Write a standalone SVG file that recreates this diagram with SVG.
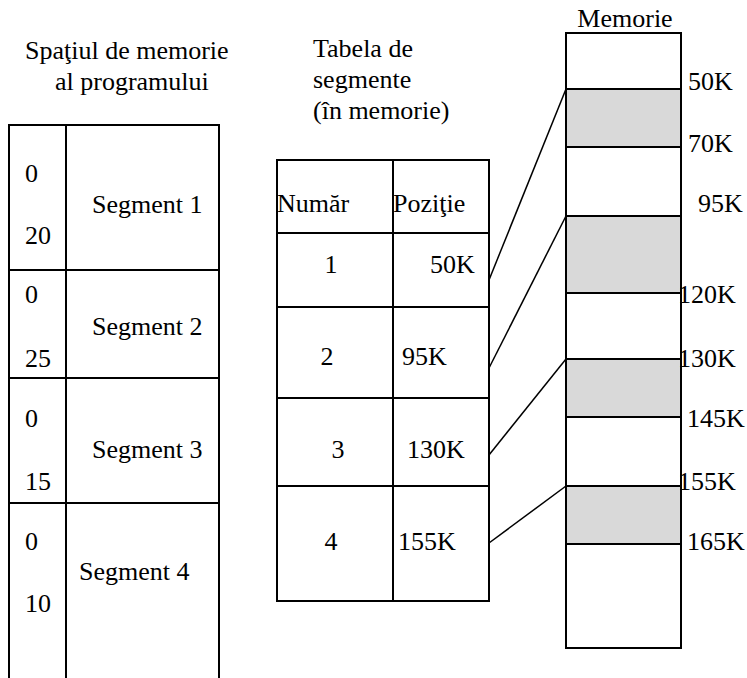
<svg xmlns="http://www.w3.org/2000/svg" width="747" height="678" viewBox="0 0 747 678">
  <style>
    .t { font-family: "Liberation Serif", "Times New Roman", serif; font-size: 26px; fill: #000; }
    .m { text-anchor: middle; }
    .e { text-anchor: end; }
    .box { fill: none; stroke: #000; stroke-width: 2; }
    .ln { stroke: #000; stroke-width: 2; fill: none; }
    .seg { fill: #d9d9d9; stroke: none; }
    .conn { stroke: #000; stroke-width: 1.5; fill: none; }
  </style>
  <rect width="747" height="678" fill="#fff"/>

  <!-- program address space -->
  <g id="program-space">
    <text class="t" x="25" y="59">Spaţiul de memorie</text>
    <text class="t" x="55" y="90">al programului</text>
    <path class="ln" d="M9 678 V125 H219 V678 M66 125 V678 M9 270 H219 M9 378 H219 M9 503 H219"/>
  </g>
  <g id="seg1">
    <text class="t" x="25" y="182">0</text>
    <text class="t" x="25" y="244">20</text>
    <text class="t" x="92" y="213">Segment 1</text>
  </g>
  <g id="seg2">
    <text class="t" x="25" y="303">0</text>
    <text class="t" x="25" y="367">25</text>
    <text class="t" x="92" y="335">Segment 2</text>
  </g>
  <g id="seg3">
    <text class="t" x="25" y="427">0</text>
    <text class="t" x="25" y="490">15</text>
    <text class="t" x="92" y="458">Segment 3</text>
  </g>
  <g id="seg4">
    <text class="t" x="25" y="550">0</text>
    <text class="t" x="25" y="612">10</text>
    <text class="t" x="79" y="580">Segment 4</text>
  </g>

  <!-- segment table -->
  <g id="segment-table">
    <text class="t" x="313" y="57">Tabela de</text>
    <text class="t" x="313" y="88">segmente</text>
    <text class="t" x="313" y="119">(în memorie)</text>
    <rect class="box" x="277" y="160" width="212" height="441"/>
    <path class="ln" d="M393 160 V601 M277 233 H489 M277 307 H489 M277 398 H489 M277 486 H489"/>
    <text class="t" x="277" y="212">Număr</text>
    <text class="t" x="393" y="212">Poziţie</text>
    <text class="t m" x="331" y="273">1</text>
    <text class="t" x="430" y="273">50K</text>
    <text class="t m" x="327" y="365">2</text>
    <text class="t" x="402" y="365">95K</text>
    <text class="t m" x="338" y="458">3</text>
    <text class="t" x="407" y="458">130K</text>
    <text class="t m" x="331" y="550">4</text>
    <text class="t" x="398" y="550">155K</text>
  </g>

  <!-- physical memory -->
  <g id="memory">
    <text class="t m" x="625" y="27">Memorie</text>
    <rect class="seg" x="566" y="89" width="115" height="58"/>
    <rect class="seg" x="566" y="216" width="115" height="77"/>
    <rect class="seg" x="566" y="359" width="115" height="58"/>
    <rect class="seg" x="566" y="486" width="115" height="58"/>
    <rect class="box" x="566" y="33" width="115" height="615"/>
    <path class="ln" d="M566 89 H681 M566 147 H681 M566 216 H681 M566 293 H681 M566 359 H681 M566 417 H681 M566 486 H681 M566 544 H681"/>
    <text class="t" x="688" y="90">50K</text>
    <text class="t" x="688" y="152">70K</text>
    <text class="t" x="698" y="212">95K</text>
    <text class="t" x="678" y="303">120K</text>
    <text class="t" x="678" y="367">130K</text>
    <text class="t" x="687" y="427">145K</text>
    <text class="t" x="678" y="490">155K</text>
    <text class="t" x="687" y="550">165K</text>
  </g>

  <!-- table entries pointing to segment start addresses -->
  <g id="connectors">
    <line class="conn" x1="489" y1="280" x2="566" y2="89"/>
    <line class="conn" x1="489" y1="368" x2="566" y2="216"/>
    <line class="conn" x1="489" y1="455" x2="566" y2="359"/>
    <line class="conn" x1="489" y1="543" x2="566" y2="486"/>
  </g>
</svg>
